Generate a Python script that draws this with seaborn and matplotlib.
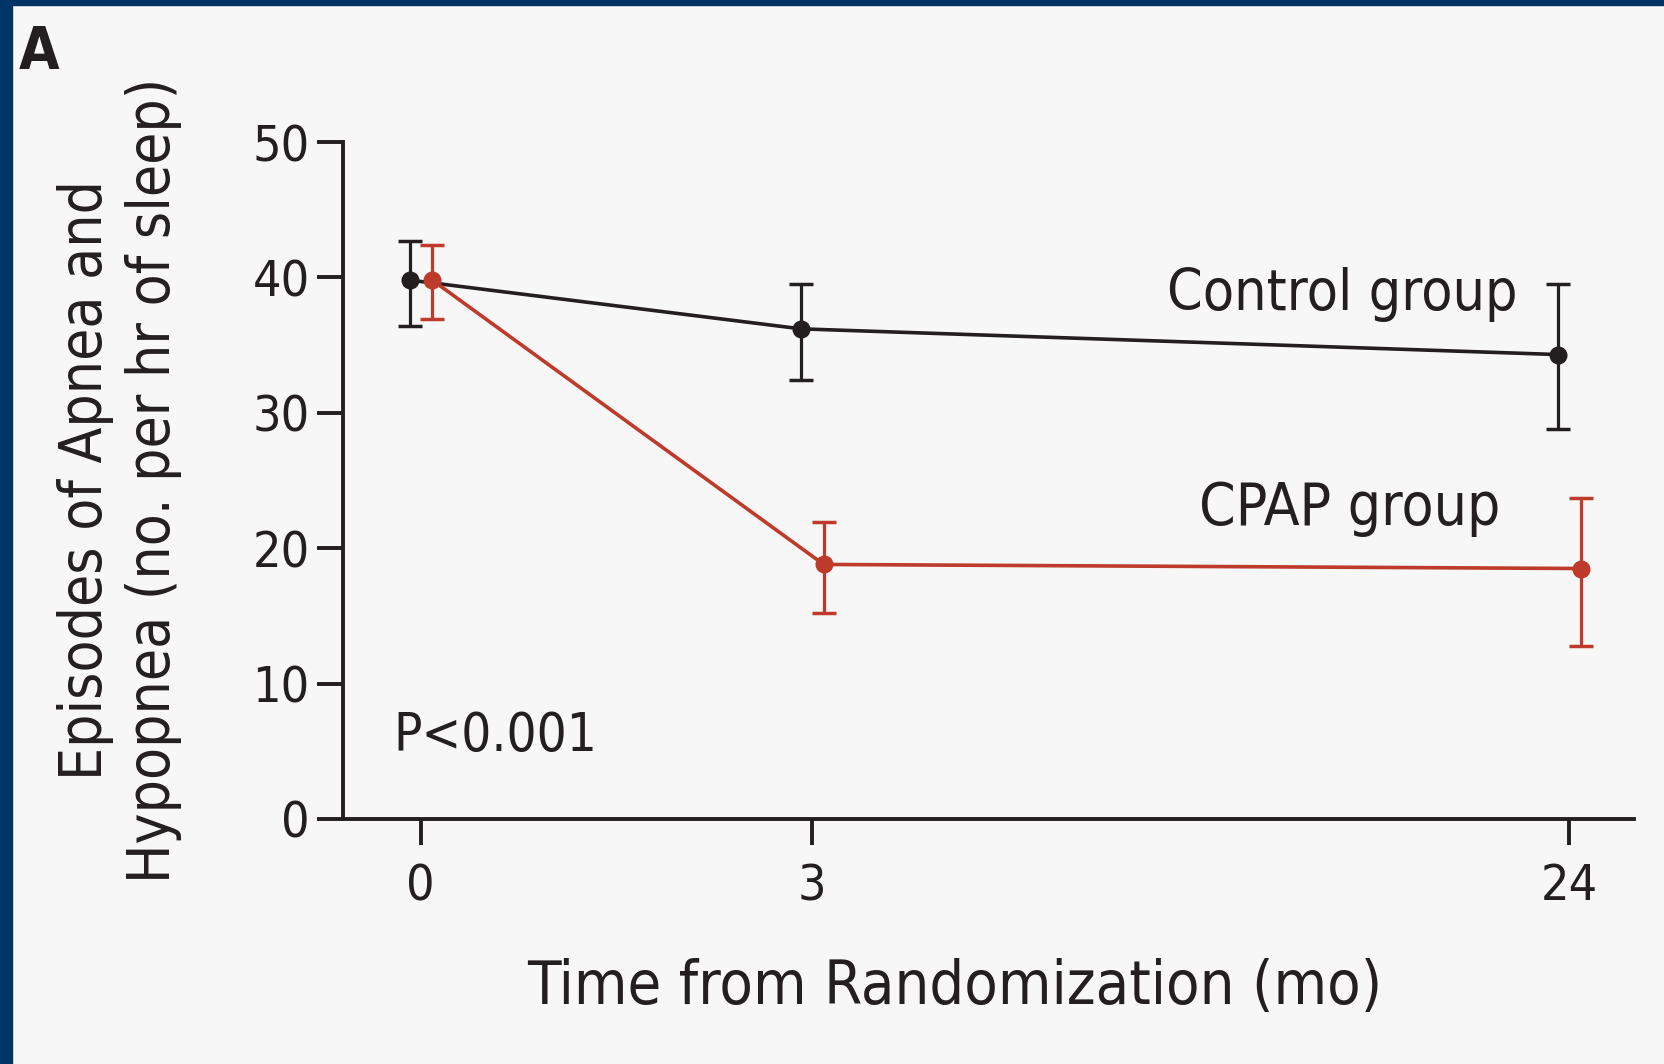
import numpy as np
import pandas as pd
import matplotlib
matplotlib.use("Agg")
import matplotlib.pyplot as plt
from matplotlib.patches import Rectangle
import seaborn as sns

# ---------------- data ----------------
time_labels = ["0", "3", "24"]
time_slot = [0.0, 1.0, 2.935]          # broken (non-linear) time axis slots
groups = ["Control group", "CPAP group"]

control_mean = [39.8, 36.2, 34.3]
control_low = [36.4, 32.45, 28.8]
control_high = [42.7, 39.5, 39.5]

cpap_mean = [39.8, 18.8, 18.5]
cpap_low = [36.9, 15.2, 12.8]
cpap_high = [42.4, 21.9, 23.7]

y_ticks = [0, 10, 20, 30, 40, 50]

# ---------------- style ----------------
BG = "#F7F7F7"
INK = "#231F20"
RED = "#BE3A2A"
BLUE = "#003466"

sns.set_theme(style="white")
plt.rcParams["font.family"] = ["DejaVu Sans Condensed", "DejaVu Sans"]
plt.rcParams["font.stretch"] = "condensed"

fig = plt.figure(figsize=(16.64, 10.64), dpi=100, facecolor=BG)
ax = fig.add_axes([343 / 1664, 1 - 819 / 1064, 1291 / 1664, 677 / 1064])
ax.set_facecolor(BG)

dodge = {"Control group": -0.028, "CPAP group": 0.03}
rows = []
for g, m, lo, hi in [("Control group", control_mean, control_low, control_high),
                     ("CPAP group", cpap_mean, cpap_low, cpap_high)]:
    for s, mv, l, h in zip(time_slot, m, lo, hi):
        rows.append({"group": g, "pos": s + dodge[g], "mean": mv, "low": l, "high": h})
df = pd.DataFrame(rows)

palette = {"Control group": INK, "CPAP group": RED}

sns.lineplot(data=df, x="pos", y="mean", hue="group", palette=palette,
             hue_order=groups, marker="o", markersize=13, markeredgewidth=0,
             linewidth=2.6, legend=False, ax=ax, sort=False)

for g in groups:
    d = df[df.group == g]
    ax.errorbar(d["pos"], d["mean"],
                yerr=[d["mean"] - d["low"], d["high"] - d["mean"]],
                fmt="none", ecolor=palette[g], elinewidth=2.3,
                capsize=8.5, capthick=2.5, zorder=3)

ax.set_xlim(-0.198, 3.10)
ax.set_ylim(0, 50)
ax.set_xticks(time_slot)
ax.set_xticklabels(time_labels)
ax.set_yticks(y_ticks)
ax.set_yticklabels([str(v) for v in y_ticks])

for side in ["top", "right"]:
    ax.spines[side].set_visible(False)
for side in ["left", "bottom"]:
    ax.spines[side].set_color(INK)
    ax.spines[side].set_linewidth(2.8)

ax.tick_params(axis="both", which="major", length=19, width=2.8, color=INK,
               labelcolor=INK, labelsize=36, direction="out")
ax.tick_params(axis="x", pad=12)
ax.tick_params(axis="y", pad=5)
ax.tick_params(bottom=True, left=True)

ax.set_xlabel("Time from Randomization (mo)", fontsize=44, color=INK, va="top")
ax.xaxis.set_label_coords(0.474, -0.205)
ax.set_ylabel("Episodes of Apnea and\nHypopnea (no. per hr of sleep)",
              fontsize=42, color=INK, va="center", linespacing=1.25)
ax.yaxis.set_label_coords(-0.173, 0.5)

ax.text(1.908, 37.6, "Control group", fontsize=41, color=INK, va="baseline")
ax.text(1.989, 21.7, "CPAP group", fontsize=42, color=INK, va="baseline")
ax.text(-0.07, 5.0, "P<0.001", fontsize=38, color=INK, va="baseline")

fig.text(19 / 1664, 1 - 69 / 1064, "A", fontsize=42, fontweight="bold",
         color=INK, va="baseline", ha="left")

# frame border (top and left)
fig.add_artist(Rectangle((0, 0), 12 / 1664, 1, transform=fig.transFigure,
                         color=BLUE, zorder=10))
fig.add_artist(Rectangle((0, 1 - 5 / 1064), 1, 5 / 1064, transform=fig.transFigure,
                         color=BLUE, zorder=10))

fig.savefig("out.png", dpi=100, facecolor=BG)
